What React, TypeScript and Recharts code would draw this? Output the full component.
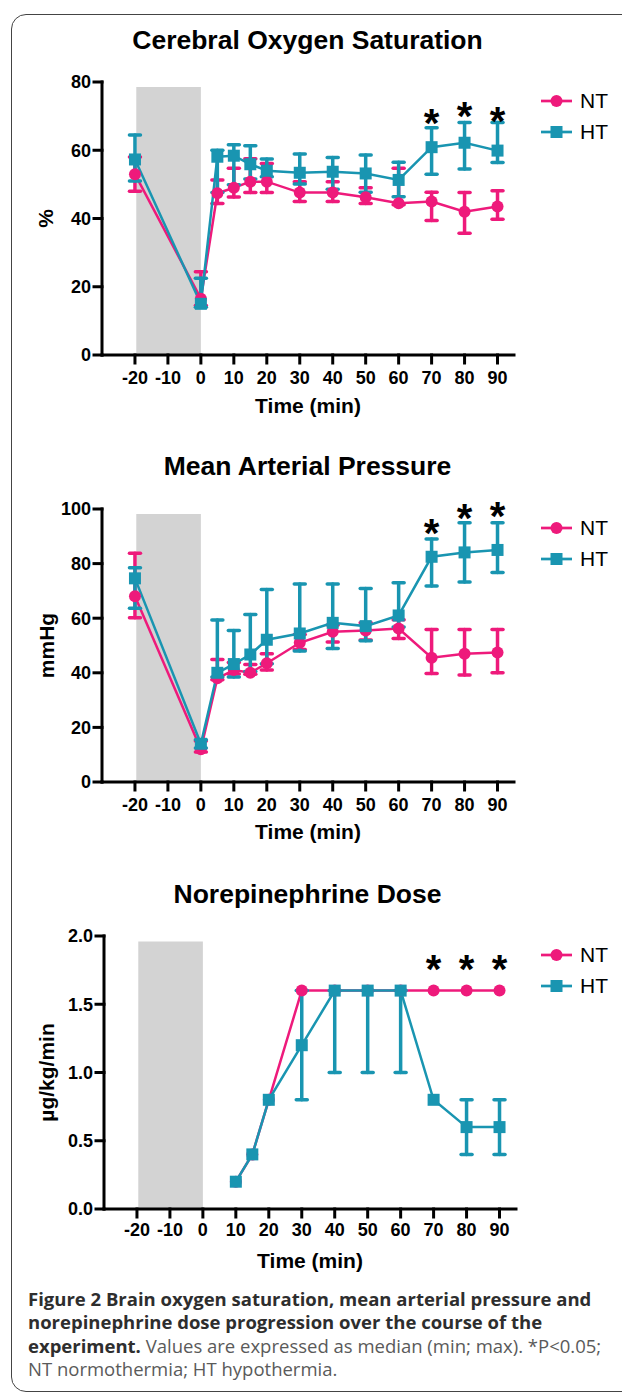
import React from "react";
import {
  ComposedChart,
  Line,
  XAxis,
  YAxis,
  ErrorBar,
  ReferenceArea,
  ReferenceDot,
  Legend,
} from "recharts";

const NT_COLOR = "#EE1A7B";
const HT_COLOR = "#1995B1";
const FONT = '"Liberation Sans", Arial, Helvetica, sans-serif';
const CAPTION_FONT = '"Open Sans", "Noto Sans", sans-serif';

const seriesOrder = ["NT", "HT"];
const timeTicks = [-20, -10, 0, 10, 20, 30, 40, 50, 60, 70, 80, 90];
const sigTimes = [70, 80, 90];

// Cerebral oxygen saturation (%), median (min; max)
const timesA = [-20, 0, 5, 10, 15, 20, 30, 40, 50, 60, 70, 80, 90];
const o2NtMed = [53, 16.5, 47.4, 49, 50.8, 50.8, 47.6, 47.6, 46.2, 44.5, 45, 42, 43.5];
const o2NtMin = [48, 14.5, 44.4, 46.3, 47.6, 47.6, 45, 45, 44.4, 44, 39.4, 35.7, 39.8];
const o2NtMax = [58, 24.4, 51.3, 54.7, 57.5, 56.1, 50.8, 50.8, 49, 54.7, 47.7, 47.6, 48.1];
const o2HtMed = [57.3, 15, 58.1, 58.4, 55.9, 54, 53.4, 53.7, 53.2, 51.3, 60.9, 62.2, 59.9];
const o2HtMin = [51, 14, 47.6, 49.9, 51.6, 52.2, 50.1, 48.6, 47.7, 46.4, 53, 54.5, 56.4];
const o2HtMax = [64.5, 22.5, 60, 61.6, 61.3, 57.4, 58.9, 57.9, 58.6, 56.5, 66.6, 68.1, 68.1];
const o2Stars = [70.3, 72.3, 70.8];

// Mean arterial pressure (mmHg)
const mapNtMed = [68, 12, 38, 41, 40, 43.5, 51, 55, 55.5, 56.2, 45.5, 47, 47.4];
const mapNtMin = [60.2, 11, 37.5, 39.6, 39.5, 41, 48.5, 51.3, 52, 52.6, 39.7, 39.2, 40];
const mapNtMax = [83.8, 15, 44.9, 43.8, 43, 47, 54, 57.5, 58.3, 59.4, 55.9, 55.9, 55.9];
const mapHtMed = [74.6, 14, 40, 43.2, 46.7, 52.1, 54.4, 58.3, 57.1, 61, 82.5, 84.1, 85];
const mapHtMin = [63.6, 12.5, 38.5, 38.5, 40.5, 43.3, 48, 48.9, 51.7, 56.8, 71.8, 73.3, 76.7];
const mapHtMax = [78.5, 15.5, 59.3, 55.5, 61.4, 70.5, 72.5, 72.5, 70.9, 73, 89, 95, 95];
const mapStars = [94.1, 99.7, 100.3];

// Norepinephrine dose (µg/kg/min)
const timesB = [10, 15, 20, 30, 40, 50, 60, 70, 80, 90];
const neNtMed = [0.2, 0.4, 0.8, 1.6, 1.6, 1.6, 1.6, 1.6, 1.6, 1.6];
const neNtMin = [0.2, 0.4, 0.8, 1.6, 1.6, 1.6, 1.6, 1.6, 1.6, 1.6];
const neNtMax = [0.2, 0.4, 0.8, 1.6, 1.6, 1.6, 1.6, 1.6, 1.6, 1.6];
const neHtMed = [0.2, 0.4, 0.8, 1.2, 1.6, 1.6, 1.6, 0.8, 0.6, 0.6];
const neHtMin = [0.2, 0.4, 0.8, 0.8, 1.0, 1.0, 1.0, 0.8, 0.4, 0.4];
const neHtMax = [0.2, 0.4, 0.8, 1.6, 1.6, 1.6, 1.6, 0.8, 0.8, 0.8];
const neStars = [1.82, 1.82, 1.82];

function errOf(med: number, lo: number, hi: number) {
  return lo === hi ? null : [med - lo, hi - med];
}

function buildRows(
  times: number[],
  ntMed: number[],
  ntMin: number[],
  ntMax: number[],
  htMed: number[],
  htMin: number[],
  htMax: number[]
) {
  return times.map((t, i) => ({
    time: t,
    NT: ntMed[i],
    HT: htMed[i],
    ntErr: errOf(ntMed[i], ntMin[i], ntMax[i]),
    htErr: errOf(htMed[i], htMin[i], htMax[i]),
  }));
}

const o2Rows = buildRows(timesA, o2NtMed, o2NtMin, o2NtMax, o2HtMed, o2HtMin, o2HtMax);
const mapRows = buildRows(timesA, mapNtMed, mapNtMin, mapNtMax, mapHtMed, mapHtMin, mapHtMax);
const neRows = buildRows(timesB, neNtMed, neNtMin, neNtMax, neHtMed, neHtMin, neHtMax);

const SquareDot = (props: any) => {
  const { cx, cy, index } = props;
  if (cx == null || cy == null) return <g key={`sq-${index}`} />;
  return <rect key={`sq-${index}`} x={cx - 6} y={cy - 6} width={12} height={12} fill={HT_COLOR} />;
};

const Star = (props: any) => (
  <text
    x={props.cx}
    y={props.cy + 22}
    textAnchor="middle"
    fontFamily={FONT}
    fontSize={40}
    fontWeight={700}
    fill="#000"
  >
    *
  </text>
);

const renderLegend = (props: any) => {
  const items = [...(props.payload || [])].sort(
    (a: any, b: any) => seriesOrder.indexOf(a.value) - seriesOrder.indexOf(b.value)
  );
  return (
    <div>
      {items.map((entry: any) => (
        <div key={entry.value} style={{ display: "flex", alignItems: "center", height: 31 }}>
          <svg width={39} height={14} style={{ flex: "none" }}>
            <line x1={0} y1={7} x2={31} y2={7} stroke={entry.color} strokeWidth={2.7} />
            {entry.value === "NT" ? (
              <circle cx={15.5} cy={7} r={6} fill={entry.color} />
            ) : (
              <rect x={9.5} y={1} width={12} height={12} fill={entry.color} />
            )}
          </svg>
          <span style={{ fontFamily: FONT, fontSize: 21, color: "#000", lineHeight: "31px" }}>
            {entry.value}
          </span>
        </div>
      ))}
    </div>
  );
};

type PanelProps = {
  top: number;
  height: number;
  rows: any[];
  yDomain: [number, number];
  yTicks: number[];
  yLabel: string;
  yLabelOffset: number;
  marginTop: number;
  xAxisHeight: number;
  yAxisWidth: number;
  xTickMargin: number;
  timeOffset: number;
  legendTop: number;
  stars: number[];
  shadeTop: number;
  fmt?: (v: number) => string;
  ntErrors: boolean;
};

function Panel(p: PanelProps) {
  const axisStroke = { stroke: "#000", strokeWidth: 3, strokeLinecap: "square" as const };
  const tickStyle = { fill: "#000", fontSize: 18, fontWeight: 700, fontFamily: FONT };
  return (
    <div style={{ position: "absolute", left: 0, top: p.top }}>
      <ComposedChart
        width={622}
        height={p.height}
        data={p.rows}
        margin={{ top: p.marginTop, right: 622 - 412 - p.yAxisWidth, bottom: 0, left: 0 }}
      >
        <ReferenceArea
          x1={-19.6}
          x2={0}
          y1={0}
          y2={p.shadeTop}
          fill="#D3D3D3"
          fillOpacity={1}
          stroke="none"
          ifOverflow="visible"
        />
        <XAxis
          type="number"
          dataKey="time"
          domain={[-30, 95]}
          ticks={timeTicks}
          interval={0}
          height={p.xAxisHeight}
          axisLine={axisStroke}
          tickLine={axisStroke}
          tickSize={8}
          tickMargin={p.xTickMargin}
          tick={tickStyle}
          label={{
            value: "Time (min)",
            position: "insideBottom",
            offset: p.timeOffset,
            fill: "#000",
            fontSize: 21,
            fontWeight: 700,
            fontFamily: FONT,
          }}
        />
        <YAxis
          type="number"
          domain={p.yDomain}
          ticks={p.yTicks}
          interval={0}
          width={p.yAxisWidth}
          axisLine={axisStroke}
          tickLine={axisStroke}
          tickSize={8}
          tickMargin={3}
          tick={tickStyle}
          tickFormatter={p.fmt}
          label={{
            value: p.yLabel,
            angle: -90,
            position: "insideLeft",
            offset: p.yLabelOffset,
            style: { textAnchor: "middle" },
            fill: "#000",
            fontSize: 21,
            fontWeight: 700,
            fontFamily: FONT,
          }}
        />
        <Legend
          layout="vertical"
          align="center"
          verticalAlign="middle"
          content={renderLegend}
          wrapperStyle={{ left: 541, top: p.legendTop, width: 80 }}
        />
        <Line
          dataKey="NT"
          name="NT"
          type="linear"
          stroke={NT_COLOR}
          strokeWidth={2.5}
          dot={{ r: 6, fill: NT_COLOR, stroke: "none" }}
          activeDot={false}
          isAnimationActive={false}
        >
          {p.ntErrors && (
            <ErrorBar
              dataKey="ntErr"
              direction="y"
              width={5.5}
              stroke={NT_COLOR}
              strokeWidth={3.5}
              strokeLinecap="round"
              isAnimationActive={false}
            />
          )}
        </Line>
        <Line
          dataKey="HT"
          name="HT"
          type="linear"
          stroke={HT_COLOR}
          strokeWidth={2.5}
          dot={SquareDot}
          activeDot={false}
          isAnimationActive={false}
        >
          <ErrorBar
            dataKey="htErr"
            direction="y"
            width={5.5}
            stroke={HT_COLOR}
            strokeWidth={3.5}
            strokeLinecap="round"
            isAnimationActive={false}
          />
        </Line>
        {sigTimes.map((t, i) => (
          <ReferenceDot key={t} x={t} y={p.stars[i]} r={1} ifOverflow="visible" shape={Star} />
        ))}
      </ComposedChart>
    </div>
  );
}

const titles = [
  { text: "Cerebral Oxygen Saturation", y: 48.5 },
  { text: "Mean Arterial Pressure", y: 475 },
  { text: "Norepinephrine Dose", y: 902.5 },
];

export default function App() {
  return (
    <div
      style={{
        position: "absolute",
        left: 0,
        top: 0,
        width: 622,
        height: 1397,
        overflow: "hidden",
        background: "#fff",
      }}
    >
      <div
        style={{
          position: "absolute",
          left: 11,
          top: 14,
          width: 700,
          height: 1378,
          border: "1.5px solid #444",
          borderRadius: 15,
          boxSizing: "border-box",
        }}
      />
      <svg width={622} height={1397} style={{ position: "absolute", left: 0, top: 0 }}>
        {titles.map((t) => (
          <text
            key={t.text}
            x={307.5}
            y={t.y}
            textAnchor="middle"
            fontFamily={FONT}
            fontSize={26.5}
            fontWeight={700}
            fill="#000"
          >
            {t.text}
          </text>
        ))}
      </svg>
      <Panel
        top={0}
        height={440}
        rows={o2Rows}
        yDomain={[0, 80]}
        yTicks={[0, 20, 40, 60, 80]}
        yLabel="%"
        yLabelOffset={46}
        marginTop={82}
        xAxisHeight={85}
        yAxisWidth={102}
        xTickMargin={8}
        timeOffset={27}
        legendTop={85}
        stars={o2Stars}
        shadeTop={78.5}
        ntErrors={true}
      />
      <Panel
        top={440}
        height={420}
        rows={mapRows}
        yDomain={[0, 100]}
        yTicks={[0, 20, 40, 60, 80, 100]}
        yLabel="mmHg"
        yLabelOffset={47}
        marginTop={69}
        xAxisHeight={78}
        yAxisWidth={102}
        xTickMargin={8}
        timeOffset={21}
        legendTop={72}
        stars={mapStars}
        shadeTop={98.2}
        ntErrors={true}
      />
      <Panel
        top={860}
        height={425}
        rows={neRows}
        yDomain={[0, 2]}
        yTicks={[0, 0.5, 1, 1.5, 2]}
        yLabel="µg/kg/min"
        yLabelOffset={47}
        marginTop={76}
        xAxisHeight={76}
        yAxisWidth={104}
        xTickMargin={6}
        timeOffset={17}
        legendTop={79}
        stars={neStars}
        shadeTop={1.96}
        fmt={(v: number) => v.toFixed(1)}
        ntErrors={false}
      />
      <div
        style={{
          position: "absolute",
          left: 28,
          top: 1286.5,
          fontFamily: CAPTION_FONT,
          fontSize: 18.5,
          lineHeight: "23.5px",
          color: "#5a5a5a",
          whiteSpace: "nowrap",
        }}
      >
        <div style={{ fontWeight: 700, color: "#2e2e2e" }}>
          Figure 2 Brain oxygen saturation, mean arterial pressure and
        </div>
        <div style={{ fontWeight: 700, color: "#2e2e2e" }}>
          norepinephrine dose progression over the course of the
        </div>
        <div>
          <span style={{ fontWeight: 700, color: "#2e2e2e" }}>experiment.</span> Values are expressed as
          median (min; max). *P&lt;0.05;
        </div>
        <div>NT normothermia; HT hypothermia.</div>
      </div>
    </div>
  );
}
